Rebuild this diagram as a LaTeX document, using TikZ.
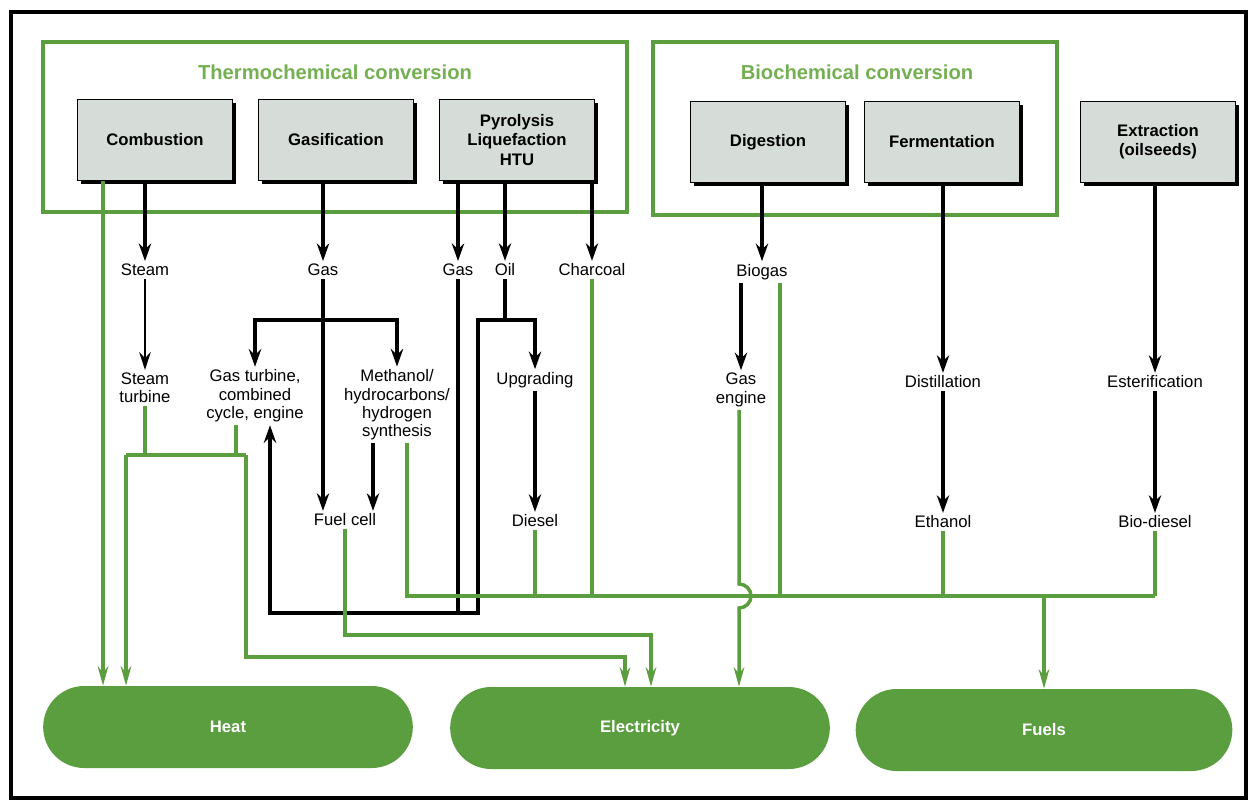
\documentclass[tikz,border=0pt]{standalone}
\usepackage{fontspec}
\setmainfont{Liberation Sans}
\usepackage{tikz}
\usetikzlibrary{arrows.meta,shapes.misc,shadows,calc}

\definecolor{leaf}{HTML}{5A9E3F}
\definecolor{boxgrey}{HTML}{D6DDD8}
\definecolor{titlegreen}{HTML}{74B052}
\newcommand{\diagfont}{\fontsize{9.5}{10.5}\selectfont}

\tikzset{
  grp/.style={draw=leaf, line width=2.2pt},
  grptitle/.style={text=titlegreen, font=\fontsize{11.5}{13}\selectfont\bfseries},
  proc/.style={draw, thin, fill=boxgrey, minimum width=3.1cm, minimum height=1.62cm,
    font=\fontsize{9.5}{11}\selectfont\bfseries,
    drop shadow={shadow xshift=2pt, shadow yshift=-2pt, fill=black, opacity=1}},
  outc/.style={rounded rectangle, fill=leaf, minimum height=1.64cm, text=white,
    font=\fontsize{9.5}{11}\selectfont\bfseries},
  bln/.style={line width=2.2pt},
  barr/.style={bln, -{Stealth[length=10pt, width=7pt]}},
  tarr/.style={line width=1pt, -{Stealth[length=10pt, width=6.5pt]}},
  gln/.style={draw=leaf, line width=2pt},
  garr/.style={gln, -{Stealth[length=11pt, width=6pt]}}
}

\begin{document}
\begin{tikzpicture}[x=0.02cm, y=-0.02cm, every node/.style={font=\diagfont, align=center, inner sep=1.5pt}]
\useasboundingbox (0,0) rectangle (1250,804);
\draw[line width=2pt] (11,12) rectangle (1246,798);

% conversion groups
\draw[grp] (43,42) rectangle (627,212);
\draw[grp] (653,42) rectangle (1057,215);
\node[grptitle] (ttitle) at (335,72) {Thermochemical conversion};
\node[grptitle] (btitle) at (857,72) {Biochemical conversion};

% processes
\node[proc] (comb) at (155,140) {Combustion};
\node[proc] (gasi) at (336,140) {Gasification};
\node[proc] (pyro) at (517,140) {Pyrolysis\\Liquefaction\\HTU};
\node[proc] (dige) at (768,142) {Digestion};
\node[proc] (ferm) at (942,142) {Fermentation};
\node[proc] (extr) at (1158,142) {Extraction\\(oilseeds)};

% intermediates
\node (steam) at (145,270) {Steam};
\node (gas1) at (323,270) {Gas};
\node (gas2) at (458,270) {Gas};
\node (oil) at (505,270) {Oil};
\node (char) at (592,270) {Charcoal};
\node (biogas) at (762,272) {Biogas};

\node (sturb) at (145,388) {Steam\\turbine};
\node (gturb) at (255,396) {Gas turbine,\\combined\\cycle, engine};
\node (meth) at (397,405) {Methanol/\\hydrocarbons/\\hydrogen\\synthesis};
\node (upg) at (535,380) {Upgrading};
\node (gengine) at (741,390) {Gas\\engine};
\node (distil) at (943,382) {Distillation};
\node (ester) at (1155,382) {Esterification};

\node (fcell) at (345,520) {Fuel cell};
\node (diesel) at (535,521) {Diesel};
\node (ethanol) at (943,522) {Ethanol};
\node (biodsl) at (1155,522) {Bio-diesel};

% end uses
\node[outc, minimum width=7.5cm] (heat) at (228,727) {Heat};
\node[outc, minimum width=7.7cm] (elec) at (640,728) {Electricity};
\node[outc, minimum width=7.64cm] (fuels) at (1044,730) {Fuels};

% helper points
\coordinate (gbr) at (323,320);
\coordinate (obr) at (505,320);
\coordinate (olp) at (478,613);
\coordinate (glp) at (270,613);
\coordinate (xm) at (373,0);
\coordinate (xc) at (103,0);
\coordinate (xg) at (236,0);
\coordinate (hb) at (126,455);
\coordinate (hbr) at (246,455);
\coordinate (e1) at (625,657);
\coordinate (e2) at (651,635);
\coordinate (fb) at (407,596);
\coordinate (fbr) at (1155,596);
\coordinate (xb) at (780,0);
\coordinate (hop) at (739,596);
\coordinate (xf) at (1044,0);

% black routes
\draw[barr] (steam.north |- comb.south) -- (steam);
\draw[tarr] (steam) -- (sturb);
\draw[barr] (gas1.north |- gasi.south) -- (gas1);
\draw[barr] (gas1) -- (gas1 |- fcell.north);
\draw[barr] (gbr) -| (gturb);
\draw[barr] (gbr) -| (meth);
\draw[barr] (meth.south -| xm) -- (xm |- fcell.north);
\draw[barr] (gas2.north |- pyro.south) -- (gas2);
\draw[barr] (oil.north |- pyro.south) -- (oil);
\draw[barr] (char.north |- pyro.south) -- (char);
\draw[barr] (gas2) -- (gas2 |- glp) -- (glp) -- (glp |- gturb.south);
\draw[bln] (oil) -- (obr);
\draw[barr] (obr) -| (upg);
\draw[bln] (obr) -| (olp) -- (gas2 |- olp);
\draw[barr] (upg) -- (diesel);
\draw[barr] (biogas.north |- dige.south) -- (biogas);
\draw[barr] (gengine.north |- biogas.south) -- (gengine);
\draw[barr] (distil.north |- ferm.south) -- (distil);
\draw[barr] (distil) -- (ethanol);
\draw[barr] (ester.north |- extr.south) -- (ester);
\draw[barr] (ester) -- (biodsl);

% green routes
\draw[garr] (comb.south -| xc) -- (xc |- heat.north);
\draw[gln] (sturb.south) -- (sturb.south |- hb);
\draw[gln] (gturb.south -| xg) -- (xg |- hb);
\draw[gln] (hb) -- (hbr);
\draw[garr] (hb) -- (hb |- heat.north);
\draw[garr] (hbr) |- (e1) -- (e1 |- elec.north);
\draw[garr] (fcell.south) |- (e2) -- (e2 |- elec.north);
\draw[gln] (meth.south -| fb) -- (fb) -- (fbr);
\draw[gln] (char.south) -- (char.south |- fb);
\draw[gln] (diesel.south) -- (diesel.south |- fb);
\draw[gln] (biogas.south -| xb) -- (xb |- fb);
\draw[gln] (ethanol.south) -- (ethanol.south |- fb);
\draw[gln] (biodsl.south) -- (biodsl.south |- fbr);
\draw[garr] (gengine.south -| hop) -- ($(hop)+(0,-12)$) arc[start angle=90, end angle=-90, radius=0.24cm] -- (hop |- elec.north);
\draw[garr] (xf |- fb) -- (xf |- fuels.north);
\end{tikzpicture}
\end{document}
